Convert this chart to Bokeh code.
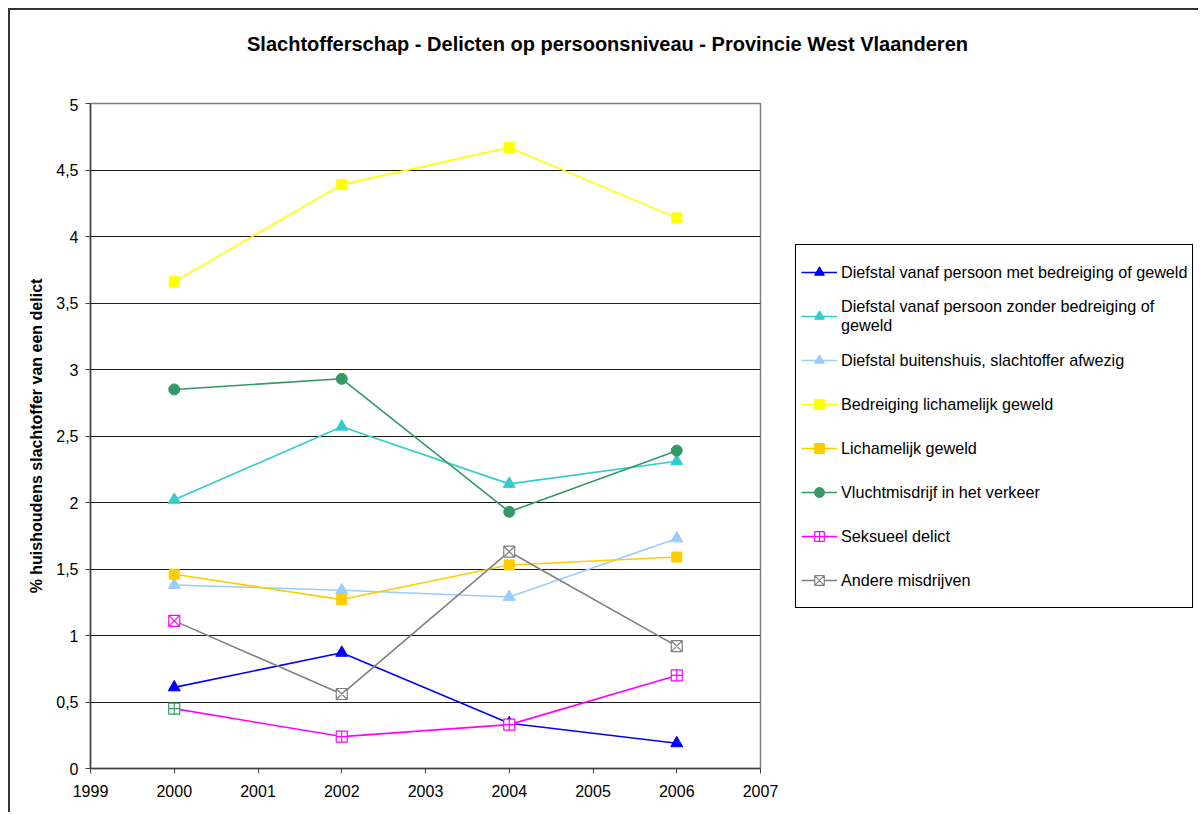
from bokeh.plotting import figure
from bokeh.models import (Legend, LegendItem, Label, CustomJSTickFormatter,
                          FixedTicker, Range1d)
from bokeh.layouts import column, row
from bokeh.embed import file_html
from bokeh.resources import INLINE

# ---------------- data ----------------
years = [2000, 2002, 2004, 2006]
series_names = [
    "Diefstal vanaf persoon met bedreiging of geweld",
    "Diefstal vanaf persoon zonder bedreiging of\ngeweld",
    "Diefstal buitenshuis, slachtoffer afwezig",
    "Bedreiging lichamelijk geweld",
    "Lichamelijk geweld",
    "Vluchtmisdrijf in het verkeer",
    "Seksueel delict",
    "Andere misdrijven",
]
diefstal_met = [0.61, 0.87, 0.34, 0.19]
diefstal_zonder = [2.02, 2.57, 2.14, 2.31]
diefstal_buiten = [1.38, 1.34, 1.29, 1.73]
bedreiging = [3.66, 4.39, 4.67, 4.14]
lichamelijk = [1.46, 1.27, 1.53, 1.59]
vluchtmisdrijf = [2.85, 2.93, 1.93, 2.39]
seksueel = [0.45, 0.24, 0.33, 0.70]
andere = [1.11, 0.56, 1.63, 0.92]
x_ticks = [1999, 2000, 2001, 2002, 2003, 2004, 2005, 2006, 2007]
y_ticks = [0, 0.5, 1, 1.5, 2, 2.5, 3, 3.5, 4, 4.5, 5]
title_text = "Slachtofferschap - Delicten op persoonsniveau - Provincie West Vlaanderen"
y_label = "% huishoudens slachtoffer van een delict"

all_values = [diefstal_met, diefstal_zonder, diefstal_buiten, bedreiging,
              lichamelijk, vluchtmisdrijf, seksueel, andere]

# ---------------- styles ----------------
colors = ["#0000FF", "#33CCCC", "#99CCFF", "#FFFF00", "#FFCC00", "#339966", "#FF00FF", "#808080"]
markers = ["triangle", "triangle", "triangle", "square", "square", "circle", "square_cross", "square_x"]
FONT = "Liberation Sans"

TOTAL_W = 1188
TITLE_H = 88
BODY_H = 714
MAIN_W = 772
LEG_W = TOTAL_W - MAIN_W


def bare(fig):
    fig.xaxis.visible = False
    fig.yaxis.visible = False
    fig.xgrid.visible = False
    fig.ygrid.visible = False
    fig.outline_line_color = None
    fig.background_fill_color = "white"
    fig.border_fill_color = "white"


# ---- title strip ----
pt = figure(width=TOTAL_W, height=TITLE_H, output_backend="svg", toolbar_location=None,
            x_range=Range1d(0, TOTAL_W), y_range=Range1d(0, TITLE_H),
            min_border=0)
bare(pt)
pt.add_layout(Label(x=597, y=55, text=title_text, text_font=FONT, text_font_size="20px",
                    text_font_style="bold", text_color="black",
                    text_align="center", text_baseline="middle"))

# ---- main chart ----
p = figure(width=MAIN_W, height=BODY_H, output_backend="svg", toolbar_location=None,
           x_range=Range1d(1999, 2007), y_range=Range1d(0, 5),
           min_border_left=80, min_border_right=MAIN_W - 750, min_border_top=5,
           min_border_bottom=44)
p.background_fill_color = "white"
p.border_fill_color = "white"
p.outline_line_color = "#808080"
p.outline_line_width = 1.5

p.xgrid.visible = False
p.ygrid.grid_line_color = "#1a1a1a"
p.ygrid.grid_line_width = 1

for ax in (p.xaxis[0], p.yaxis[0]):
    ax.axis_line_color = "#404040"
    ax.axis_line_width = 1.5
    ax.major_tick_line_color = "#404040"
    ax.major_tick_out = 5
    ax.major_tick_in = 0
    ax.minor_tick_line_color = None
    ax.major_label_text_font = FONT
    ax.major_label_text_font_size = "16px"
    ax.major_label_text_color = "black"

p.xaxis.ticker = FixedTicker(ticks=x_ticks)
p.yaxis.ticker = FixedTicker(ticks=y_ticks)
p.xaxis.major_label_standoff = 11
p.yaxis.major_label_standoff = 7
p.yaxis.formatter = CustomJSTickFormatter(code="return tick.toString().replace('.', ',');")
p.yaxis.axis_label = y_label
p.yaxis.axis_label_text_font = FONT
p.yaxis.axis_label_text_font_size = "16px"
p.yaxis.axis_label_text_font_style = "bold"
p.yaxis.axis_label_text_color = "black"
p.yaxis.axis_label_standoff = 8

# ---- legend panel (its ranges keep the swatch renderers' data out of view) ----
pl = figure(width=LEG_W, height=BODY_H, output_backend="svg", toolbar_location=None,
            x_range=Range1d(0, 1), y_range=Range1d(0, 1), min_border=0)
bare(pl)

items = []
for i, vals in enumerate(all_values):
    c = colors[i]
    m = markers[i]
    p.line(years, vals, line_color=c, line_width=1.6)
    if m in ("square_cross", "square_x"):
        line_cols = [c] * len(years)
        # first point in the original shows a differently coloured outline
        line_cols[0] = "#339966" if m == "square_cross" else "#FF00FF"
        p.scatter(x=years, y=vals, marker=m, size=11, fill_color="white",
                  line_color=line_cols, line_width=1.2)
        lsz, fc = 10, "white"
    else:
        sz = 12 if m == "triangle" else (11 if m == "circle" else 10)
        p.scatter(x=years, y=vals, marker=m, size=sz, fill_color=c, line_color=c)
        lsz, fc = (11 if m == "triangle" else 10), c
    # legend swatches: same series, same styles, drawn outside this panel's view
    gl = pl.line(years, vals, line_color=c, line_width=1.6)
    gm = pl.scatter(x=years, y=vals, marker=m, size=lsz, fill_color=fc, line_color=c,
                    line_width=1.2)
    items.append(LegendItem(label=series_names[i], renderers=[gl, gm], index=0))

legend = Legend(items=items, location=(13, 160), orientation="vertical",
                border_line_color="black", border_line_width=1, border_line_alpha=1,
                background_fill_color="white", background_fill_alpha=1,
                label_text_font=FONT, label_text_font_size="16.2px", label_text_color="black",
                label_height=44, glyph_height=24, glyph_width=36,
                label_standoff=4, spacing=0, padding=5, margin=0)
pl.add_layout(legend, "center")

layout = column(pt, row(p, pl))
layout.styles = {"margin-left": "8px", "margin-top": "8px",
                 "border-left": "2px solid #333333", "border-top": "2px solid #333333"}

open("out.html", "w").write(file_html(layout, INLINE))
